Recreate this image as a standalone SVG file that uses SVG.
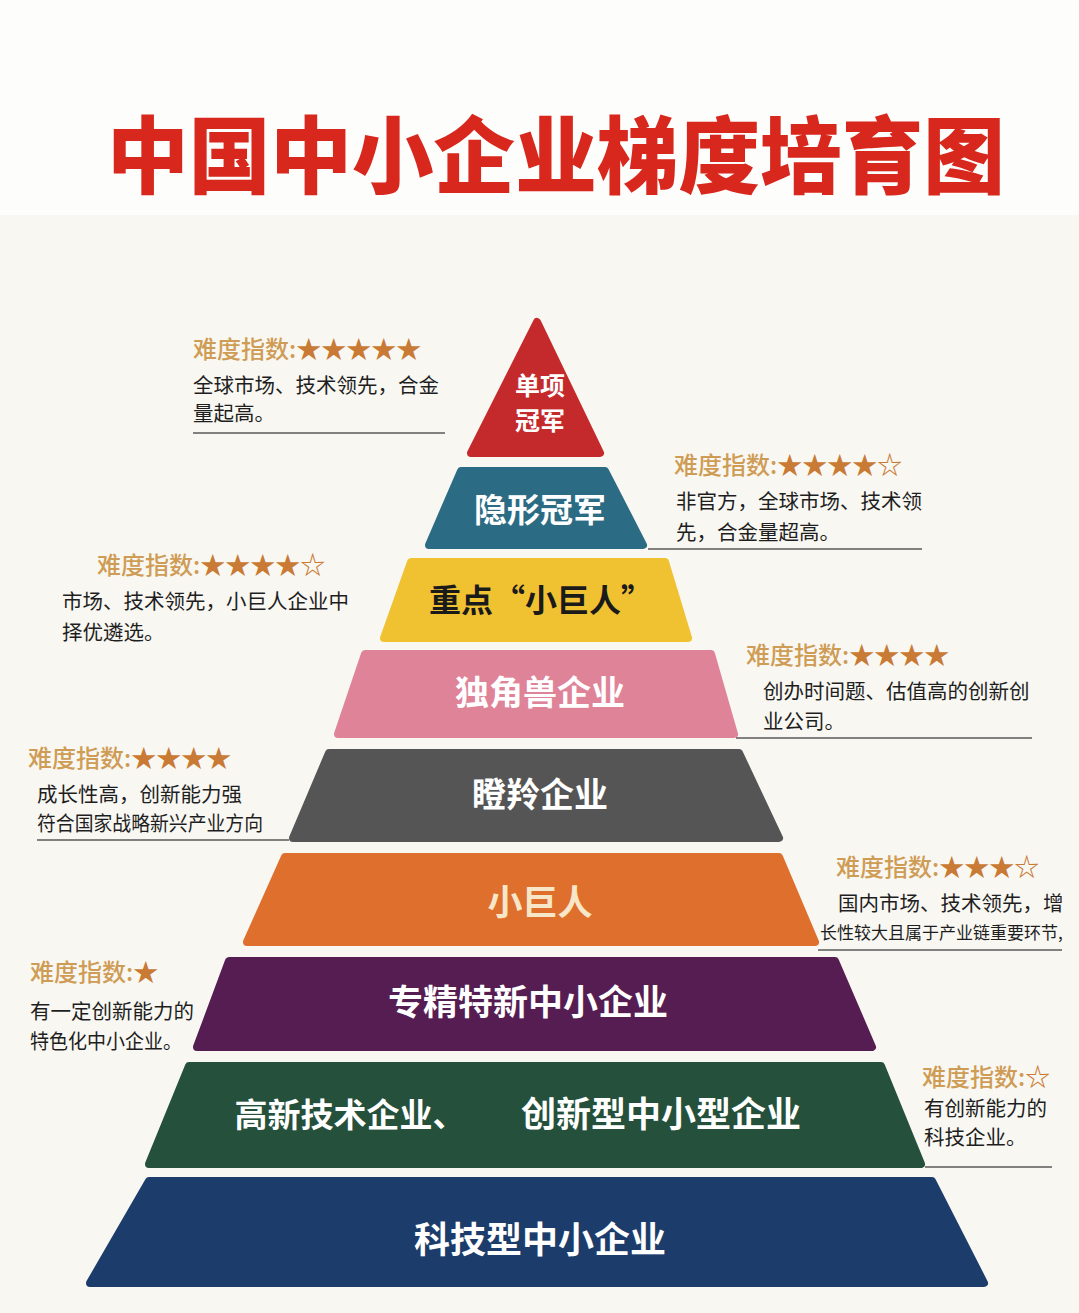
<svg xmlns="http://www.w3.org/2000/svg" width="1079" height="1313" viewBox="0 0 1079 1313">
<style>
.title{font-family:"Noto Sans CJK SC","Noto Sans",sans-serif;font-weight:900;fill:#d8281e;font-size:84px}
.lab{font-family:"Noto Sans CJK SC","Noto Sans",sans-serif;font-weight:700;fill:#ffffff;text-anchor:middle}
.diff{font-family:"Noto Sans CJK SC","Noto Sans",sans-serif;font-weight:500;font-size:24px;fill:#cf9c55}
.star{fill:#c97a34;font-size:25px}
.desc{font-family:"Noto Sans CJK SC","Noto Sans",sans-serif;font-weight:400;font-size:20.5px;fill:#1e1e1e}
.rule{stroke:#5a5a5a;stroke-width:1.5;fill:none}
.layer{stroke-linejoin:round;stroke-width:8}
</style>
<rect x="0" y="0" width="1079" height="1313" fill="#f8f7f2"/>
<rect x="0" y="0" width="1079" height="215" fill="#fdfdfc"/>
<g id="title">
<text class="title" x="107" y="187" textLength="898" lengthAdjust="spacingAndGlyphs">中国中小企业梯度培育图</text>
</g>
<g id="layer1">
<path class="layer" d="M537,322 L600,453 L471,453 Z" fill="#c42a2c" stroke="#c42a2c"/>
<text class="lab" x="540" y="395" font-size="25">单项</text>
<text class="lab" x="540" y="430" font-size="25">冠军</text>
</g>
<g id="layer2">
<path class="layer" d="M461,471 L605,471 L643,545 L429,545 Z" fill="#2b6c84" stroke="#2b6c84"/>
<text class="lab" x="540" y="522" font-size="33">隐形冠军</text>
</g>
<g id="layer3">
<path class="layer" d="M411,562 L665,562 L688,638 L384,638 Z" fill="#f0c232" stroke="#f0c232"/>
<text class="lab" x="541" y="612" font-size="32" style="fill:#1a1a1a">重点“小巨人”</text>
</g>
<g id="layer4">
<path class="layer" d="M365,654 L711,654 L734,734 L338,734 Z" fill="#df8399" stroke="#df8399"/>
<text class="lab" x="540" y="705" font-size="34">独角兽企业</text>
</g>
<g id="layer5">
<path class="layer" d="M329,753 L739,753 L779,838 L293,838 Z" fill="#555555" stroke="#555555"/>
<text class="lab" x="540" y="807" font-size="34">瞪羚企业</text>
</g>
<g id="layer6">
<path class="layer" d="M285,857 L779,857 L815,942 L247,942 Z" fill="#de6f2c" stroke="#de6f2c"/>
<text class="lab" x="540" y="915" font-size="35" style="fill:#f7e7c8">小巨人</text>
</g>
<g id="layer7">
<path class="layer" d="M229,961 L835,961 L872,1047 L197,1047 Z" fill="#561d52" stroke="#561d52"/>
<text class="lab" x="528" y="1015" font-size="35">专精特新中小企业</text>
</g>
<g id="layer8">
<path class="layer" d="M189,1066 L881,1066 L921,1164 L149,1164 Z" fill="#25503b" stroke="#25503b"/>
<text class="lab" x="350" y="1127" font-size="33">高新技术企业、</text>
<text class="lab" x="661" y="1127" font-size="35">创新型中小型企业</text>
</g>
<g id="layer9">
<path class="layer" d="M149,1181 L932,1181 L984,1283 L90,1283 Z" fill="#1c3d6b" stroke="#1c3d6b"/>
<text class="lab" x="540" y="1253" font-size="36">科技型中小企业</text>
</g>
<g id="notes">
<g id="note1">
<text class="diff" x="193" y="358">难度指数:<tspan class="star">★★★★★</tspan></text>
<text class="desc" x="193" y="393">全球市场、技术领先，合金</text>
<text class="desc" x="193" y="421">量起高。</text>
<line class="rule" x1="193" y1="433" x2="445" y2="433"/>
</g>
<g id="note2">
<text class="diff" x="674" y="474">难度指数:<tspan class="star">★★★★☆</tspan></text>
<text class="desc" x="676" y="509">非官方，全球市场、技术领</text>
<text class="desc" x="676" y="540">先，合金量超高。</text>
<line class="rule" x1="648" y1="549" x2="922" y2="549"/>
</g>
<g id="note3">
<text class="diff" x="97" y="574">难度指数:<tspan class="star">★★★★☆</tspan></text>
<text class="desc" x="62" y="609">市场、技术领先，小巨人企业中</text>
<text class="desc" x="62" y="640">择优遴选。</text>
</g>
<g id="note4">
<text class="diff" x="746" y="664">难度指数:<tspan class="star">★★★★</tspan></text>
<text class="desc" x="763" y="699">创办时间题、估值高的创新创</text>
<text class="desc" x="763" y="729">业公司。</text>
<line class="rule" x1="736" y1="738" x2="1032" y2="738"/>
</g>
<g id="note5">
<text class="diff" x="28" y="767">难度指数:<tspan class="star">★★★★</tspan></text>
<text class="desc" x="37" y="802">成长性高，创新能力强</text>
<text class="desc" x="37" y="831" textLength="226" lengthAdjust="spacingAndGlyphs">符合国家战略新兴产业方向</text>
<line class="rule" x1="37" y1="840" x2="289" y2="840"/>
</g>
<g id="note6">
<text class="diff" x="836" y="876">难度指数:<tspan class="star">★★★☆</tspan></text>
<text class="desc" x="838" y="911">国内市场、技术领先，增</text>
<text class="desc" x="820" y="939" style="font-size:17px">长性较大且属于产业链重要环节,</text>
<line class="rule" x1="818" y1="950" x2="1062" y2="950"/>
</g>
<g id="note7">
<text class="diff" x="30" y="981">难度指数:<tspan class="star">★</tspan></text>
<text class="desc" x="30" y="1019">有一定创新能力的</text>
<text class="desc" x="30" y="1049" textLength="152" lengthAdjust="spacingAndGlyphs">特色化中小企业。</text>
</g>
<g id="note8">
<text class="diff" x="922" y="1086">难度指数:<tspan class="star">☆</tspan></text>
<text class="desc" x="924" y="1116">有创新能力的</text>
<text class="desc" x="924" y="1145">科技企业。</text>
<line class="rule" x1="925" y1="1167" x2="1052" y2="1167"/>
</g>
</g>
</svg>
